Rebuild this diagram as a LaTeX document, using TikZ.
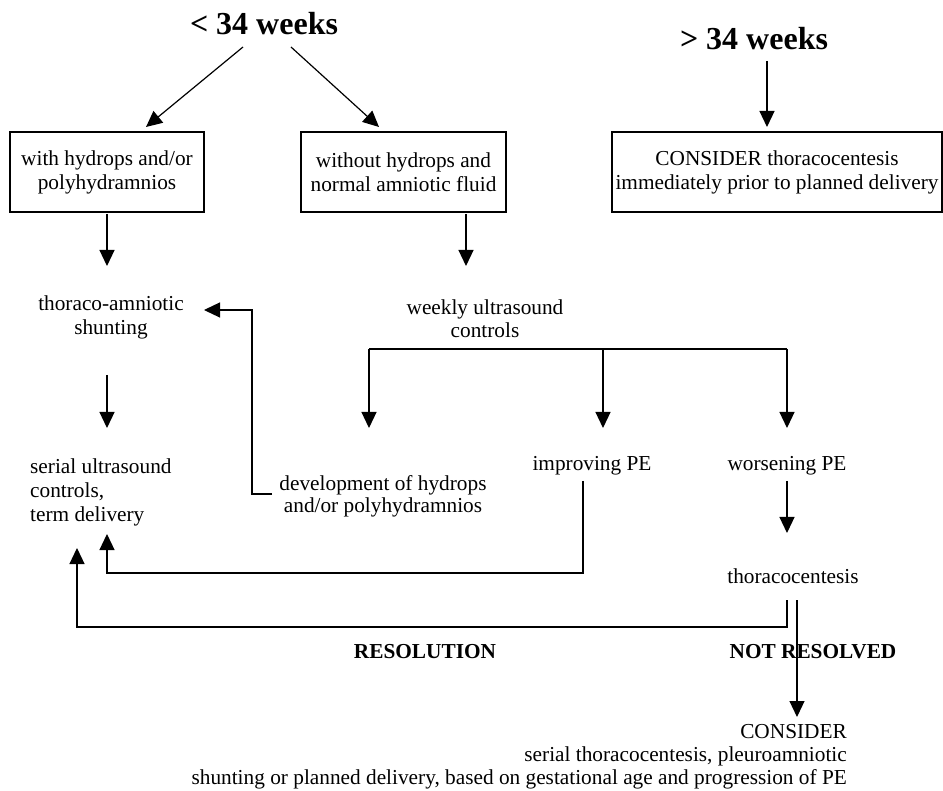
\documentclass[tikz,border=0pt]{standalone}
\usepackage{fontspec}
\setmainfont{Liberation Serif}
\usetikzlibrary{arrows.meta}
\begin{document}
\begin{tikzpicture}[x=1pt,y=-1pt,
  txt/.style={inner sep=0pt, font=\fontsize{21.3}{24}\selectfont},
  head/.style={inner sep=0pt, font=\fontsize{32}{36}\selectfont\bfseries},
  lbl/.style={inner sep=0pt, font=\fontsize{21.3}{24}\selectfont\bfseries},
  boxnode/.style={draw, line width=1.2pt, inner sep=0pt, minimum height=80pt, align=center, font=\fontsize{21.3}{24}\selectfont},
  arr/.style={-{Triangle[length=16pt,width=15pt]}, line width=1.2pt},
  ln/.style={line width=1.2pt}]
\useasboundingbox (0,0) rectangle (943,791);

% headings
\node[head, anchor=base] (lt) at (264,35) {< 34 weeks};
\node[head, anchor=base] (gt) at (754,50) {> 34 weeks};

% boxes
\node[boxnode, minimum width=194pt] (b1) at (107,172) {with hydrops and/or\\polyhydramnios};
\node[boxnode, minimum width=205pt] (b2) at (403.5,172) {without hydrops and\\normal amniotic fluid};
\node[boxnode, minimum width=330pt] (b3) at (777,172) {CONSIDER thoracocentesis\\immediately prior to planned delivery};

% text nodes
\node[txt, anchor=base] (ta) at (111,311) {\begin{tabular}[t]{@{}c@{}}thoraco-amniotic\\shunting\end{tabular}};
\node[txt, anchor=base west] (su) at (30,474) {\begin{tabular}[t]{@{}l@{}}serial ultrasound\\controls,\\term delivery\end{tabular}};
\node[txt, anchor=base] (dev) at (383,490) {\fontsize{21.3}{23}\selectfont\begin{tabular}[t]{@{}c@{}}development of hydrops\\and/or polyhydramnios\end{tabular}};
\node[txt, anchor=base] (wk) at (485,315) {\fontsize{21.3}{23}\selectfont\begin{tabular}[t]{@{}c@{}}weekly ultrasound\\controls\end{tabular}};
\node[txt, anchor=base] (imp) at (592,471) {improving PE};
\node[txt, anchor=base] (wor) at (787,471) {worsening PE};
\node[txt, anchor=base] (tc) at (793,583) {thoracocentesis};
\node[lbl, anchor=base] (res) at (425,658) {RESOLUTION};
\node[lbl, anchor=base] (nr) at (813,658) {NOT RESOLVED};
\node[txt, anchor=base east] (con) at (847,738) {\fontsize{21.3}{23}\selectfont\begin{tabular}[t]{@{}r@{}}CONSIDER\\serial thoracocentesis, pleuroamniotic\\shunting or planned delivery, based on gestational age and progression of PE\end{tabular}};

% connector end points
\coordinate (lt1) at (243,47);
\coordinate (lt2) at (291,47);
\coordinate (b1in) at (146,127);
\coordinate (b2in) at (379,127);
\coordinate (gtout) at (767,61);
\coordinate (b3in) at (767,127);
\coordinate (b1out) at (107,214);
\coordinate (taIn) at (107,266);
\coordinate (b2out) at (466,214);
\coordinate (wkIn) at (466,266);
\coordinate (devOut) at (272,494);
\coordinate (taSide) at (204,310);
\coordinate (taOut) at (107,375);
\coordinate (suIn) at (107,428);
\coordinate (brL) at (369,349);
\coordinate (brM) at (603,349);
\coordinate (brR) at (787,349);
\coordinate (devIn) at (369,428);
\coordinate (impIn) at (603,428);
\coordinate (worIn) at (787,428);
\coordinate (impOut) at (583,481);
\coordinate (suIn2) at (107,534);
\coordinate (worOut) at (787,481);
\coordinate (tcIn) at (787,533);
\coordinate (tcOut1) at (787,600);
\coordinate (suIn3) at (77,548);
\coordinate (tcOut2) at (797,600);
\coordinate (conIn) at (797,717);

% connectors
\draw[arr] (lt1) -- (b1in);
\draw[arr] (lt2) -- (b2in);
\draw[arr] (gtout) -- (b3in);
\draw[arr] (b1out) -- (taIn);
\draw[arr] (b2out) -- (wkIn);
\draw[arr] (devOut) -- (252,494) -- (252,310) -- (taSide);
\draw[arr] (taOut) -- (suIn);
\draw[ln] (brL) -- (brR);
\draw[arr] (brL) -- (devIn);
\draw[arr] (brM) -- (impIn);
\draw[arr] (brR) -- (worIn);
\draw[arr] (impOut) -- (583,573) -- (107,573) -- (suIn2);
\draw[arr] (worOut) -- (tcIn);
\draw[arr] (tcOut1) -- (787,627) -- (77,627) -- (suIn3);
\draw[arr] (tcOut2) -- (conIn);
\end{tikzpicture}
\end{document}
